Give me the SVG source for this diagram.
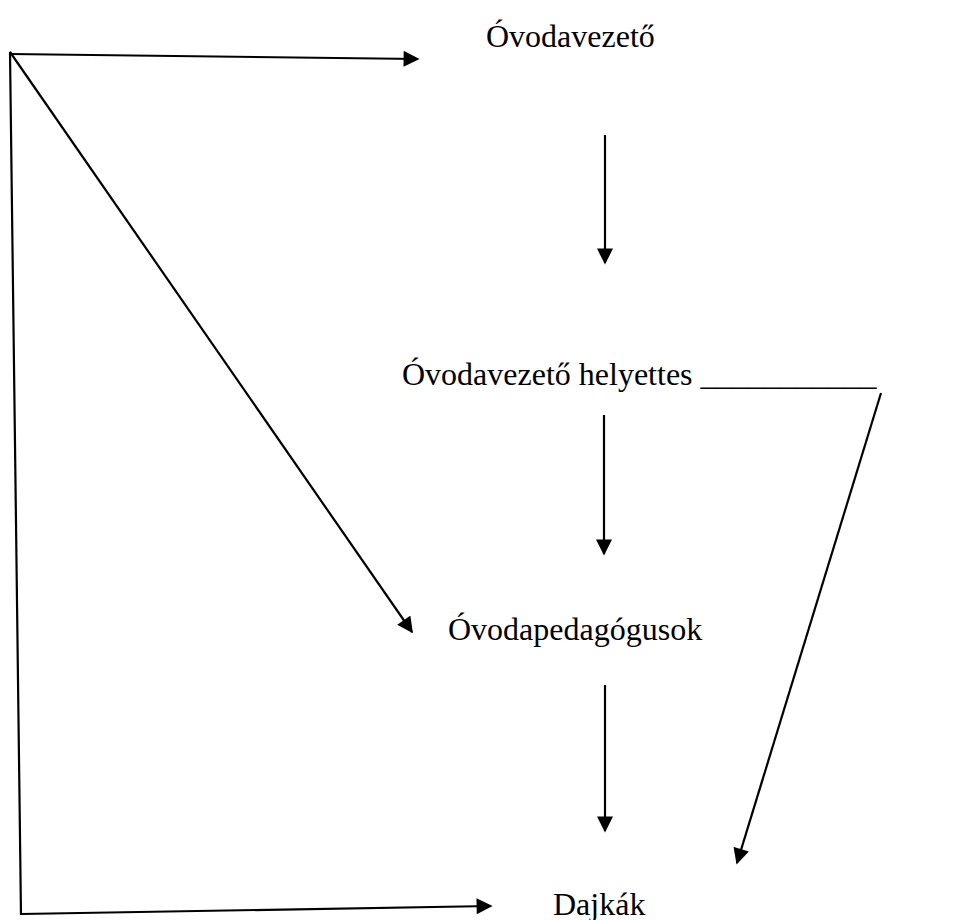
<svg xmlns="http://www.w3.org/2000/svg" width="966" height="920" viewBox="0 0 966 920">
<style>
.t{font-family:"Liberation Serif","Times New Roman",serif;fill:#000;font-size:32px}
.c{stroke:#000;stroke-width:2.2;fill:none;marker-end:url(#ah)}
.p{stroke:#000;stroke-width:2.2;fill:none}
</style>
<defs>
<marker id="ah" viewBox="0 0 10 10" refX="9" refY="5" markerWidth="17" markerHeight="16" markerUnits="userSpaceOnUse" orient="auto">
<path d="M0,0 L10,5 L0,10 z" fill="#000"/>
</marker>
</defs>
<rect width="966" height="920" fill="#fff"/>
<g id="n1"><text class="t" x="486" y="47">Óvodavezető</text></g>
<g id="n2"><text class="t" x="402" y="385">Óvodavezető helyettes ___________</text></g>
<g id="n3"><text class="t" x="448" y="640">Óvodapedagógusok</text></g>
<g id="n4"><text class="t" x="553" y="915">Dajkák</text></g>
<g id="connectors">
<path class="p" d="M21,915 L10,52 L11,54"/>
<path class="c" d="M10,54 L418,59"/>
<path class="c" d="M10,52 L412,632"/>
<path class="c" d="M21,914 L491,906"/>
<path class="c" d="M605,135 L605,263"/>
<path class="c" d="M604,415 L604,554"/>
<path class="c" d="M605,685 L605,831"/>
<path class="c" d="M881,393 L737,863"/>
</g>
</svg>
